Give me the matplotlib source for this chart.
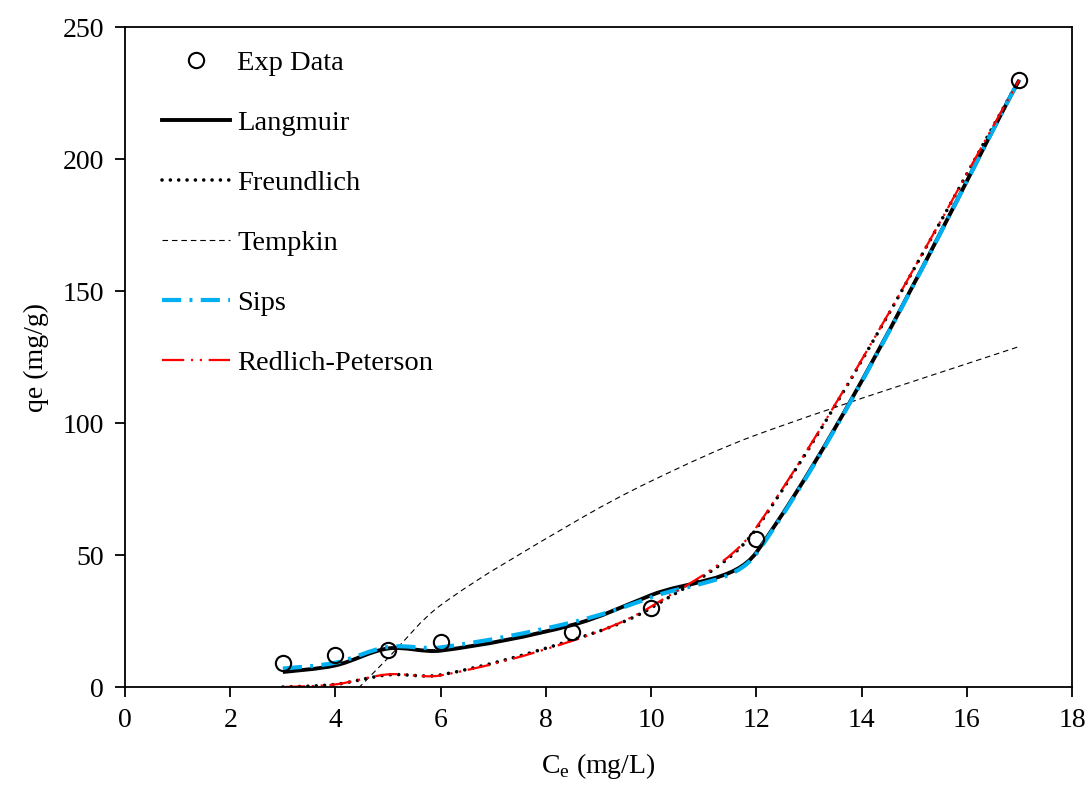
import numpy as np
import matplotlib
matplotlib.use('Agg')
import matplotlib.pyplot as plt
from matplotlib.path import Path
from matplotlib.patches import PathPatch
from matplotlib.lines import Line2D

plt.rcParams['font.family'] = ['Liberation Serif', 'DejaVu Serif']
plt.rcParams['mathtext.fontset'] = 'custom'
plt.rcParams['mathtext.rm'] = 'Liberation Serif'

# data
ce = [3, 4, 5, 6, 8.5, 10, 12, 17]
qe_exp = [9.2, 12.2, 14.2, 17.0, 20.8, 30.0, 56.0, 230.0]
langmuir = [5.7, 8.2, 14.6, 13.8, 23.5, 34.8, 51.0, 230.0]
freundlich = [0.0, 1.0, 4.6, 4.6, 17.8, 30.0, 60.0, 230.0]
tempkin = [-37.0, -10.0, 11.0, 31.0, 62.0, 78.0, 95.5, 129.0]
sips = [7.0, 9.2, 15.2, 15.0, 24.5, 34.0, 50.5, 230.0]
redlich = [0.0, 1.0, 4.8, 4.4, 17.5, 30.5, 60.5, 230.0]


def smooth_path(ax, x, y):
    # Excel style smoothed line, control points weighted by segment length on screen
    p = np.column_stack([x, y]).astype(float)
    s = ax.transData.transform(p)
    n = len(p)
    d = np.hypot(*np.diff(s, axis=0).T)
    verts = [p[0]]
    codes = [Path.MOVETO]
    t = 1.0 / 3.0
    for i in range(n - 1):
        p0 = p[max(i - 1, 0)]
        p1 = p[i]
        p2 = p[i + 1]
        p3 = p[min(i + 2, n - 1)]
        dprev = d[i - 1] if i > 0 else d[i]
        dnext = d[i + 1] if i + 1 < n - 1 else d[i]
        c1 = p1 + (p2 - p0) * t * d[i] / (dprev + d[i])
        c2 = p2 - (p3 - p1) * t * d[i] / (d[i] + dnext)
        verts += [c1, c2, p2]
        codes += [Path.CURVE4] * 3
    return Path(verts, codes)


fig = plt.figure(figsize=(10.9, 7.85), dpi=100)
ax = fig.add_axes([0.1147, 0.1248, 0.8688, 0.8408])
ax.set_xlim(0, 18)
ax.set_ylim(0, 250)

styles = [
    ('Langmuir', langmuir, dict(color='black', lw=2.8, ls='-', cap='butt')),
    ('Freundlich', freundlich, dict(color='black', lw=2.6, ls=(0, (0.01, 2.3)), cap='round')),
    ('Tempkin', tempkin, dict(color='black', lw=0.8, ls=(0, (5, 3.5)), cap='butt')),
    ('Sips', sips, dict(color='#00B0F0', lw=3.0, ls=(0, (4.6, 2.0, 0.7, 2.0)), cap='butt')),
    ('Redlich-Peterson', redlich, dict(color='#FF0000', lw=1.6, ls=(0, (10, 3, 1, 3, 1, 3)), cap='butt')),
]

handles = [Line2D([], [], ls='none', marker='o', ms=11, mfc='white', mec='black', mew=1.5)]
for name, vals, st in styles:
    patch = PathPatch(smooth_path(ax, ce, vals), fill=False, edgecolor=st['color'],
                      lw=st['lw'], linestyle=st['ls'], capstyle=st['cap'], zorder=2)
    ax.add_patch(patch)
    handles.append(Line2D([], [], color=st['color'], lw=st['lw'], ls=st['ls'],
                          dash_capstyle=st['cap']))

ax.plot(ce, qe_exp, ls='none', marker='o', ms=11, mfc='none', mec='black', mew=1.5, zorder=3)

ax.set_xticks(np.arange(0, 19, 2))
ax.set_yticks(np.arange(0, 251, 50))
ax.tick_params(direction='out', length=7, width=1.3, labelsize=20, pad=8)
for sp in ax.spines.values():
    sp.set_linewidth(1.3)

ax.set_xlabel('C$_\\mathrm{e}$ (mg/L)', fontsize=20, labelpad=13)
ax.set_ylabel('qe (mg/g)', fontsize=20, labelpad=10)

labels = ['Exp Data'] + [s[0] for s in styles]
ax.legend(handles, labels, loc='upper left', bbox_to_anchor=(0.027, 0.983), frameon=False,
          fontsize=20.5, handlelength=2.4, handletextpad=0.25, labelspacing=1.2, borderaxespad=0)

fig.savefig('out.png', dpi=100)
